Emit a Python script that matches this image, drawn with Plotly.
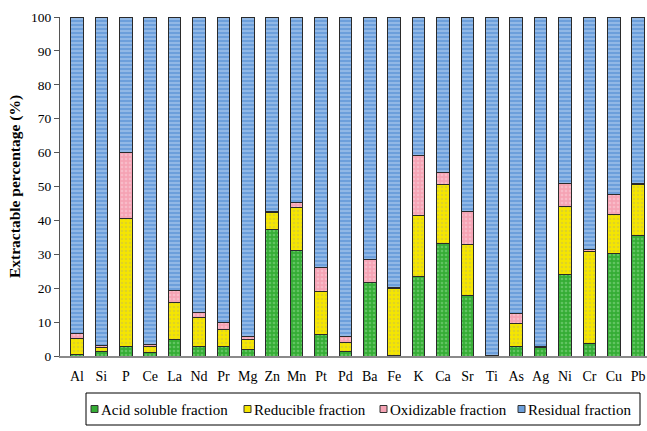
import plotly.graph_objects as go

# Elements analysed
elements = ["Al", "Si", "P", "Ce", "La", "Nd", "Pr", "Mg", "Zn", "Mn", "Pt", "Pd",
            "Ba", "Fe", "K", "Ca", "Sr", "Ti", "As", "Ag", "Ni", "Cr", "Cu", "Pb"]

# Fraction percentages for each element (%)
acid_soluble = [0.3, 1.2, 2.9, 0.9, 4.9, 2.9, 2.7, 2.0, 37.3, 31.2, 6.4, 1.2,
                21.6, 0.2, 23.6, 33.1, 17.9, 0.0, 2.7, 2.5, 24.1, 3.6, 30.2, 35.4]
reducible = [4.8, 1.3, 37.8, 1.8, 10.8, 8.6, 5.2, 2.9, 4.9, 12.6, 12.5, 2.7,
             0.0, 19.7, 17.9, 17.5, 15.0, 0.0, 6.8, 0.0, 20.1, 27.1, 11.5, 15.1]
oxidizable = [1.5, 0.6, 19.2, 0.6, 3.7, 1.3, 2.1, 1.0, 0.3, 1.6, 7.2, 2.0,
              6.8, 0.3, 17.7, 3.4, 9.8, 0.2, 3.0, 0.3, 6.8, 0.7, 6.0, 0.3]
residual = [round(100 - a - r - o, 1) for a, r, o in zip(acid_soluble, reducible, oxidizable)]

series_names = ["Acid soluble fraction", "Reducible fraction",
                "Oxidizable fraction", "Residual fraction"]

series = [
    (series_names[0], acid_soluble, "#35ad35", "#8fdc8f", "."),
    (series_names[1], reducible, "#f5e600", "#c9c04a", "."),
    (series_names[2], oxidizable, "#f5a3b4", "#fbd3dc", "."),
    (series_names[3], residual, "#6c9fdb", "#d6e6f8", "-"),
]

W, H = 647, 431
M_L, M_R, M_T, M_B = 60, 0, 17, 75
PW, PH = W - M_L - M_R, H - M_T - M_B


def px_x(px):
    """Pixel column -> paper x."""
    return (px - M_L) / PW


def px_y(py):
    """Pixel row -> paper y."""
    return (H - M_B - py) / PH


font = "Liberation Serif"

fig = go.Figure()
for name, vals, bg, fg, shape in series:
    fig.add_trace(go.Bar(
        x=elements, y=vals, name=name, width=0.52, showlegend=False,
        marker=dict(
            color=bg,
            line=dict(color="#2a2a2a", width=1),
            pattern=dict(shape=shape, bgcolor=bg, fgcolor=fg, size=4,
                         solidity=0.35, fillmode="overlay"),
        ),
    ))

# Boxed legend row under the axis
shapes = [dict(type="rect", xref="paper", yref="paper",
               x0=px_x(86), x1=px_x(640), y0=px_y(425), y1=px_y(393),
               line=dict(color="black", width=1), fillcolor="white")]
annotations = []
legend_starts = [91, 244, 380, 518]
for start, (name, _, bg, _, _) in zip(legend_starts, series):
    shapes.append(dict(type="rect", xref="paper", yref="paper",
                       x0=px_x(start), x1=px_x(start + 7),
                       y0=px_y(412.5), y1=px_y(405.5),
                       line=dict(color="#333", width=1), fillcolor=bg))
    annotations.append(dict(xref="paper", yref="paper", x=px_x(start + 8),
                            y=px_y(409.5), xanchor="left", yanchor="middle",
                            text=name, showarrow=False,
                            font=dict(family=font, size=15, color="black")))

fig.update_layout(
    width=W, height=H, autosize=False,
    margin=dict(l=M_L, r=M_R, t=M_T, b=M_B),
    barmode="stack",
    paper_bgcolor="white", plot_bgcolor="white",
    font=dict(family=font, size=14, color="black"),
    showlegend=False,
    shapes=shapes,
    annotations=annotations,
    xaxis=dict(
        type="category", range=[-0.697, 23.36],
        showline=True, linecolor="#8a8a8a", linewidth=1.5,
        ticks="", showgrid=False, ticklabelstandoff=6,
        tickfont=dict(family=font, size=14, color="black"),
    ),
    yaxis=dict(
        range=[0, 100], dtick=10, tick0=0,
        showline=True, linecolor="#555", linewidth=1,
        ticks="outside", ticklen=5, tickcolor="#555",
        showgrid=False, zeroline=False,
        tickfont=dict(family=font, size=13.5, color="black"),
        title=dict(text="<b>Extractable percentage (%)</b>",
                   font=dict(family=font, size=15.5, color="black"), standoff=6),
    ),
)

fig.write_html("out.html")
